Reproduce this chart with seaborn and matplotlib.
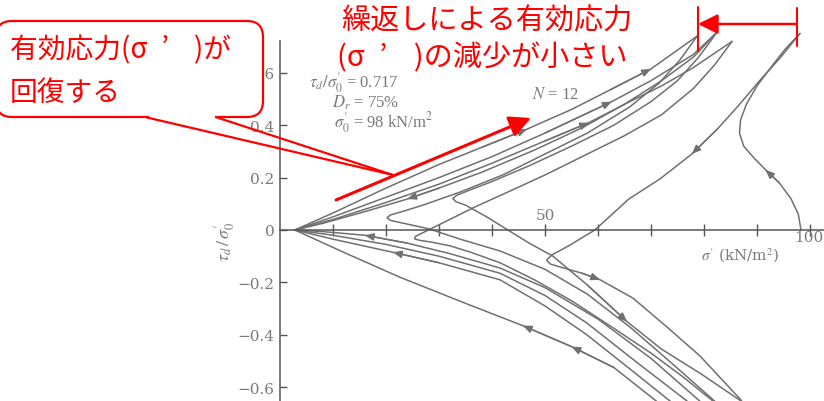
import numpy as np
import pandas as pd
import matplotlib
matplotlib.use('Agg')
import matplotlib.pyplot as plt
import seaborn as sns
from matplotlib.patches import FancyBboxPatch, Rectangle
from matplotlib.lines import Line2D
from matplotlib.transforms import IdentityTransform

# stress paths: effective stress sigma' (kN/m2) and stress ratio tau_d/sigma'_0
# first loading from sigma'_0 = 98
a_sig = [98.3, 97.8, 96.4, 94.2, 91.6, 89.2, 87.5, 86.7, 86.9, 88.0, 90.0, 92.6, 95.3, 98.1]
a_tau = [0.00, 0.06, 0.12, 0.18, 0.23, 0.28, 0.32, 0.37, 0.42, 0.48, 0.55, 0.62, 0.69, 0.75]
# unloading from first peak, corner, extension loading
b_sig = [98.1, 94.5, 90.5, 86.3, 82.5, 77.7, 71.7, 65.8, 59.4, 54.5, 51.3, 50.3, 51.0, 53.5,
         57.0, 60.4, 66.6, 73.0, 79.2, 86.8, 88.5]
b_tau = [0.75, 0.66, 0.57, 0.47, 0.385, 0.29, 0.195, 0.118, 0.0, -0.06, -0.095, -0.115, -0.13,
         -0.145, -0.165, -0.19, -0.26, -0.37, -0.48, -0.645, -0.69]
# later cycles: unloading from the peaks, corner, extension loading
c_sig = [82.5, 79.0, 75.0, 70.0, 63.0, 55.0, 47.0, 40.0, 35.5, 33.3, 32.6, 33.2, 35.0, 39.0,
         43.0, 47.0, 51.5, 58.0, 65.5, 72.0, 79.5, 87.0, 88.5]
c_tau = [0.756, 0.66, 0.57, 0.49, 0.40, 0.32, 0.245, 0.185, 0.15, 0.132, 0.12, 0.108, 0.095,
         0.05, 0.0, -0.05, -0.10, -0.21, -0.35, -0.455, -0.55, -0.653, -0.68]
d_sig = [78.7, 75.5, 71.5, 66.0, 58.0, 50.0, 42.0, 34.0, 27.0, 23.0, 20.8, 20.2, 20.8, 23.0,
         28.0, 34.0, 41.5, 50.0, 58.0, 66.0, 74.0, 82.0, 84.0]
d_tau = [0.74, 0.65, 0.56, 0.47, 0.37, 0.29, 0.21, 0.145, 0.095, 0.07, 0.057, 0.047, 0.037,
         0.027, 0.005, -0.035, -0.08, -0.15, -0.245, -0.37, -0.51, -0.653, -0.69]
e_sig = [85.3, 82.0, 78.0, 72.0, 65.0, 57.0, 50.0, 43.0, 37.0, 32.5, 29.0, 26.8, 25.5, 25.4,
         26.5, 28.5, 32.0, 36.0, 41.5, 48.0, 55.0, 62.6, 70.0, 76.0, 81.7, 83.0]
e_tau = [0.72, 0.63, 0.54, 0.44, 0.36, 0.28, 0.21, 0.145, 0.09, 0.045, 0.01, -0.012, -0.025,
         -0.034, -0.04, -0.046, -0.06, -0.085, -0.125, -0.19, -0.27, -0.37, -0.47, -0.56,
         -0.653, -0.68]
v_sig = [82.5, 78.0, 72.0, 65.0, 57.0, 48.0, 38.0, 30.0, 24.0, 16.0, 8.0, 2.8]
v_tau = [0.756, 0.66, 0.57, 0.48, 0.39, 0.305, 0.22, 0.16, 0.118, 0.07, 0.025, 0.0]
# compression loading from the origin tip
u1_sig = [2.8, 10.0, 20.0, 30.0, 38.0, 46.6, 55.0, 62.3, 70.0, 78.7]
u1_tau = [0.0, 0.065, 0.16, 0.25, 0.315, 0.385, 0.46, 0.535, 0.615, 0.74]
u2_sig = [2.8, 10.0, 20.0, 30.0, 40.0, 50.0, 62.6, 70.0, 78.0, 82.5]
u2_tau = [0.0, 0.05, 0.125, 0.2, 0.28, 0.37, 0.49, 0.57, 0.67, 0.756]
u3_sig = [2.8, 10.0, 20.0, 30.0, 40.0, 50.0, 58.3, 66.0, 72.0, 78.0, 85.3]
u3_tau = [0.0, 0.04, 0.105, 0.175, 0.255, 0.34, 0.41, 0.49, 0.55, 0.62, 0.72]
# extension unloading back to the origin tip
l1_sig = [72.5, 71.0, 63.0, 55.0, 45.8, 35.0, 22.6, 12.0, 2.8]
l1_tau = [-0.68, -0.653, -0.525, -0.445, -0.365, -0.28, -0.18, -0.085, 0.0]
l2_sig = [75.0, 73.6, 66.0, 57.9, 50.0, 41.5, 30.0, 21.3, 10.0, 2.8]
l2_tau = [-0.68, -0.653, -0.53, -0.40, -0.29, -0.19, -0.125, -0.085, -0.035, 0.0]
l3_sig = [78.0, 76.8, 67.0, 57.9, 50.0, 41.5, 30.0, 20.0, 10.0, 2.8]
l3_tau = [-0.675, -0.653, -0.50, -0.355, -0.25, -0.165, -0.10, -0.055, -0.02, 0.0]
l4_sig = [80.5, 79.2, 70.0, 60.0, 50.0, 41.5, 32.0, 24.0, 16.0, 8.0, 2.8]
l4_tau = [-0.68, -0.653, -0.49, -0.34, -0.22, -0.145, -0.09, -0.05, -0.02, -0.006, 0.0]

paths = {
    'A': (a_sig, a_tau), 'B': (b_sig, b_tau), 'C': (c_sig, c_tau), 'D': (d_sig, d_tau),
    'E': (e_sig, e_tau), 'V': (v_sig, v_tau), 'U1': (u1_sig, u1_tau), 'U2': (u2_sig, u2_tau),
    'U3': (u3_sig, u3_tau), 'L1': (l1_sig, l1_tau), 'L2': (l2_sig, l2_tau),
    'L3': (l3_sig, l3_tau), 'L4': (l4_sig, l4_tau),
}
# small arrow heads on the paths: (path, segment index), head sits on point index + 1
arrow_marks = [('A', 3), ('B', 4), ('B', 14), ('C', 17), ('U1', 4), ('U1', 7), ('U2', 5),
               ('U3', 5), ('V', 7), ('L1', 2), ('L1', 3), ('L2', 6), ('L4', 7)]

y_ticks = [-0.6, -0.4, -0.2, 0.0, 0.2, 0.4, 0.6]
y_tick_labels = ['\u22120.6', '\u22120.4', '\u22120.2', '0', '0.2', '0.4', '0.6']
x_ticks = [10, 20, 30, 40, 50, 60, 70, 80, 90, 100]

rows = []
for name, (s, t) in paths.items():
    for k, (x, y) in enumerate(zip(s, t)):
        rows.append({'path': name, 'order': k, 'sig': x, 'tau': y})
df = pd.DataFrame(rows)

sns.set_theme(style='white')
plt.rcParams['font.family'] = ['Noto Sans CJK JP', 'DejaVu Sans']
plt.rcParams['mathtext.fontset'] = 'stix'

W, H = 824, 402
fig = plt.figure(figsize=(W / 100, H / 100), dpi=100)
ax = fig.add_axes([0, 0, 1, 1])
line_col = '#707070'
grey_txt = '#7a7a7a'
serif = 'Liberation Serif'

sns.lineplot(data=df, x='sig', y='tau', units='path', estimator=None, sort=False,
             color=line_col, lw=1.1, ax=ax, legend=False)

# pixel scale of the original figure: 5.3 px per kN/m2, 262 px per unit ratio
ax.set_xlim(-280 / 5.3, (W - 280) / 5.3)
ax.set_ylim(-(H - 231) / 262, 231 / 262)
ax.set_xlabel('')
ax.set_ylabel('')

for s in ['top', 'right']:
    ax.spines[s].set_visible(False)
ax.spines['left'].set_position(('data', 0))
ax.spines['bottom'].set_position(('data', 0))
ax.spines['left'].set_bounds(-0.7, 0.72)
ax.spines['bottom'].set_bounds(0, 110)
for s in ['left', 'bottom']:
    ax.spines[s].set_color('#555555')
    ax.spines[s].set_linewidth(1.1)

ax.set_xticks(x_ticks)
ax.set_xticklabels([])
ax.tick_params(axis='x', bottom=True, direction='inout', length=8, width=1, color='#555555')
ax.set_yticks(y_ticks)
ax.set_yticklabels(y_tick_labels)
ax.tick_params(axis='y', left=True, direction='in', length=5, width=1, color='#555555', pad=4,
               labelsize=11, labelcolor=grey_txt)
for lab in ax.get_yticklabels():
    lab.set_fontfamily('DejaVu Serif')

for name, i in arrow_marks:
    s, t = paths[name]
    ax.annotate('', xy=(s[i + 1], t[i + 1]), xytext=(s[i], t[i]),
                arrowprops=dict(arrowstyle='-|>,head_length=0.6,head_width=0.25', color=line_col,
                                lw=1.0, mutation_scale=9, shrinkA=0, shrinkB=0))

# axis texts
ax.text(50, 0.057, '50', ha='center', va='center', fontsize=11, color=grey_txt, family='DejaVu Serif')
ax.text(99.8, -0.025, '100', ha='center', va='center', fontsize=11, color=grey_txt, family='DejaVu Serif')
ax.text(86.8, -0.095, r"$\sigma'$ (kN/m$^2$)", ha='center', va='center', fontsize=11,
        color=grey_txt, family='DejaVu Serif')
ax.text(-10.4, -0.04, r"$\tau_d\,/\,\sigma_0'$", ha='center', va='center', fontsize=13,
        rotation=90, color=grey_txt)
ax.text(5.5, 0.566, r"$\tau_d/\sigma_0'$ = 0.717", ha='left', va='center', fontsize=12,
        color=grey_txt, family=serif)
ax.text(9.8, 0.489, r"$D_r$ = 75%", ha='left', va='center', fontsize=12,
        color=grey_txt, family=serif)
ax.text(10.2, 0.412, r"$\sigma_0'$ = 98 kN/m$^2$", ha='left', va='center', fontsize=12,
        color=grey_txt, family=serif)
ax.text(47.5, 0.52, r"$N$ = 12", ha='left', va='center', fontsize=12,
        color=grey_txt, family=serif)

# red annotations (pixel positions of the slide)
def fy(y):
    return H - y

red = '#ff0000'
box = FancyBboxPatch((-4, fy(118)), 267, 96, boxstyle='round,pad=0,rounding_size=16',
                     transform=IdentityTransform(), fc='white', ec=red, lw=1.6, zorder=5)
fig.add_artist(box)
fig.add_artist(Rectangle((149, fy(121)), 66, 6, transform=IdentityTransform(),
                         fc='white', ec='none', zorder=6))
for x0 in (147, 217):
    fig.add_artist(Line2D([x0, 393], [fy(118.5), fy(176)], transform=IdentityTransform(),
                          color=red, lw=1.6, zorder=6))
paren = '(σ\u2002’\u2002\u2009\u2009)'
fig.text(10 / W, fy(50) / H, '有効応力' + paren + 'が', color=red, fontsize=20, ha='left', va='center', zorder=7)
fig.text(10 / W, fy(93) / H, '回復する', color=red, fontsize=20, ha='left', va='center', zorder=7)

fig.text(341 / W, fy(21) / H, '繰返しによる有効応力', color=red, fontsize=21, ha='left', va='center', zorder=7)
fig.text(337 / W, fy(58) / H, paren + 'の減少が小さい', color=red, fontsize=21, ha='left', va='center', zorder=7)

ax.annotate('', xy=(531, fy(119)), xytext=(336, fy(201)), xycoords='figure pixels',
            textcoords='figure pixels',
            arrowprops=dict(arrowstyle='-|>,head_length=0.8,head_width=0.4', color=red, lw=2.2,
                            mutation_scale=16, shrinkA=0, shrinkB=0))
ax.annotate('', xy=(698, fy(25)), xytext=(796, fy(25)), xycoords='figure pixels',
            textcoords='figure pixels',
            arrowprops=dict(arrowstyle='-|>,head_length=0.8,head_width=0.4', color=red, lw=1.8,
                            mutation_scale=15, shrinkA=0, shrinkB=0))
fig.add_artist(Line2D([698, 698], [fy(8), fy(52)], transform=IdentityTransform(), color=red, lw=1.5))
fig.add_artist(Line2D([797, 797], [fy(9), fy(47)], transform=IdentityTransform(), color=red, lw=1.5))

fig.savefig('out.png', dpi=100, facecolor='white')
